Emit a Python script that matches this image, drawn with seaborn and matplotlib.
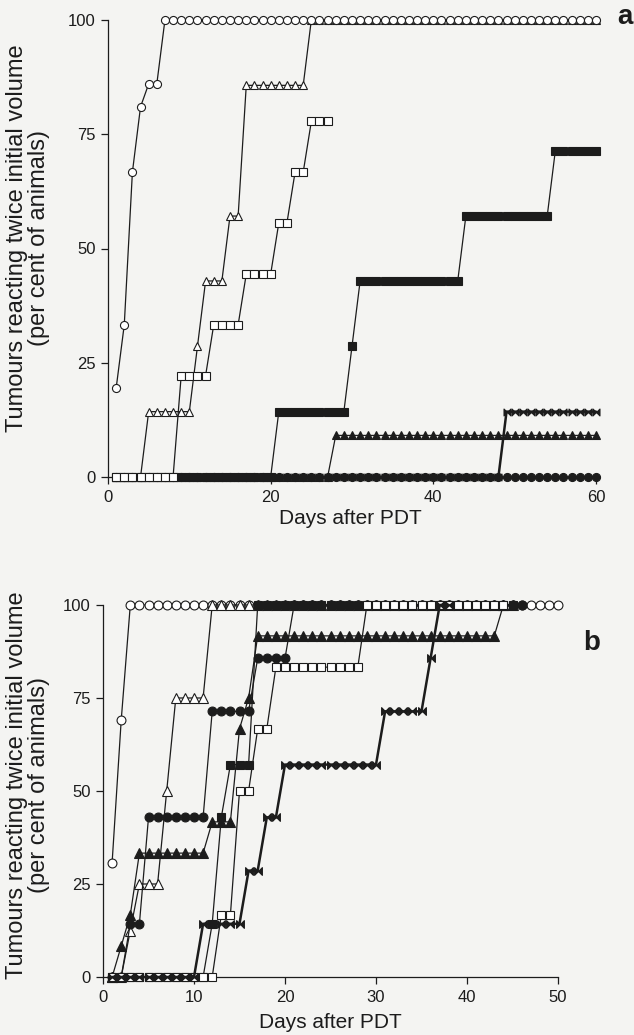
import numpy as np
import pandas as pd
import matplotlib
matplotlib.use("Agg")
import matplotlib.pyplot as plt
from matplotlib.path import Path
import seaborn as sns

sns.set_theme(style="ticks")
plt.rcParams['font.family'] = ['Liberation Sans', 'DejaVu Sans']

# ---------------- Panel a : per-day values (day 1 onwards) ----------------
a_open_circle = [19.4, 33.3, 66.7, 81.0, 86.0, 86.0] + [100] * 54
a_open_triangle = [0] * 4 + [14.3] * 6 + [28.6] + [42.9] * 3 + [57.1] * 2 + [85.7] * 8 + [100] * 36
a_open_square = [0] * 8 + [22.2] * 4 + [33.3] * 4 + [44.4] * 4 + [55.6] * 2 + [66.7] * 2 + [77.8] * 3
a_filled_square = [0] * 20 + [14.3] * 9 + [28.6] + [42.9] * 13 + [57.1] * 11 + [71.4] * 6
a_filled_triangle = [0] * 27 + [9.1] * 33
a_star = [0] * 48 + [14.3] * 12
a_filled_circle = [0] * 60

# ---------------- Panel b : per-day values (day 1 onwards) ----------------
b_open_circle = [30.7, 69.0] + [100] * 48
b_open_triangle = [0, 0, 12.5, 25, 25, 25, 50, 75, 75, 75, 75] + [100] * 34
b_filled_circle = [0, 0, 14.3, 14.3] + [42.9] * 7 + [71.4] * 5 + [85.7] * 4 + [100] * 26
b_filled_triangle = [0, 8.3, 16.7] + [33.3] * 8 + [41.7] * 3 + [66.7, 75.0] + [91.7] * 27 + [100]
b_open_square = [0] * 12 + [16.7] * 2 + [50] * 2 + [66.7] * 2 + [83.3] * 10 + [100] * 16
b_filled_square = [0] * 11 + [14.3] + [42.9] + [57.1] * 3 + [100] * 29
b_star = [0] * 10 + [14.3] * 5 + [28.6] * 2 + [42.9] * 2 + [57.1] * 11 + [71.4] * 5 + [85.7] + [100] * 2

x_ticks_a = [0, 20, 40, 60]
x_ticks_b = [0, 10, 20, 30, 40, 50]
y_ticks = [0, 25, 50, 75, 100]
ylabel = "Tumours reacting twice initial volume\n(per cent of animals)"
xlabel = "Days after PDT"

BG = "#f4f4f2"
INK = "#1c1c1c"

bowtie = Path([(-1, -1), (1, 1), (1, -1), (-1, 1), (-1, -1)],
              [Path.MOVETO, Path.LINETO, Path.LINETO, Path.LINETO, Path.CLOSEPOLY])

fig = plt.figure(figsize=(6.34, 10.35), dpi=100, facecolor=BG)
ax_a = fig.add_axes([108 / 634, 558 / 1035, 488 / 634, 457 / 1035])
ax_b = fig.add_axes([103 / 634, 58 / 1035, 455 / 634, 372 / 1035])


def draw(ax, values, marker, filled, ms, z, lw=0.9):
    days = list(range(1, len(values) + 1))
    sns.lineplot(x=days, y=values, ax=ax, estimator=None, sort=False,
                 color=INK, lw=lw, marker=marker, markersize=ms,
                 markerfacecolor=INK if filled else "white",
                 markeredgecolor=INK, markeredgewidth=0.8,
                 clip_on=False, zorder=z)


# panel a
ms_a = 5.8
draw(ax_a, a_open_triangle, "^", False, ms_a + 0.6, 2)
draw(ax_a, a_open_circle, "o", False, ms_a, 3)
draw(ax_a, a_filled_triangle, "^", True, ms_a + 0.4, 4)
draw(ax_a, a_star, bowtie, True, ms_a - 0.8, 5, lw=1.8)
draw(ax_a, a_filled_circle, "o", True, ms_a, 6)
draw(ax_a, a_filled_square, "s", True, ms_a, 7)
draw(ax_a, a_open_square, "s", False, ms_a, 8)

# panel b
ms_b = 6.4
draw(ax_b, b_open_circle, "o", False, ms_b, 2)
draw(ax_b, b_open_triangle, "^", False, ms_b + 0.6, 3)
draw(ax_b, b_filled_triangle, "^", True, ms_b + 0.4, 4)
draw(ax_b, b_filled_square, "s", True, ms_b, 5)
draw(ax_b, b_filled_circle, "o", True, ms_b, 6)
draw(ax_b, b_open_square, "s", False, ms_b, 7)
draw(ax_b, b_star, bowtie, True, ms_b - 0.8, 8, lw=1.8)

for ax, xt in ((ax_a, x_ticks_a), (ax_b, x_ticks_b)):
    ax.set_facecolor(BG)
    ax.set_xlim(xt[0], xt[-1])
    ax.set_ylim(0, 100)
    ax.set_xticks(xt)
    ax.set_yticks(y_ticks)
    ax.set_xlabel("")
    ax.set_ylabel("")
    sns.despine(ax=ax)
    for s in ("left", "bottom"):
        ax.spines[s].set_color(INK)
        ax.spines[s].set_linewidth(0.9)
    ax.tick_params(axis="both", direction="out", length=5, width=0.9,
                   colors=INK, labelsize=12, pad=4)

# axis titles
fig.text(28 / 634, 1 - 238 / 1035, ylabel, rotation=90, ha="center", va="center",
         fontsize=17, color=INK, linespacing=1.05, multialignment="center")
fig.text(28 / 634, 1 - 785 / 1035, ylabel, rotation=90, ha="center", va="center",
         fontsize=17, color=INK, linespacing=1.05, multialignment="center")
fig.text(350 / 634, 1 - 519 / 1035, xlabel, ha="center", va="center",
         fontsize=15, color=INK)
fig.text(330 / 634, 1 - 1022 / 1035, xlabel, ha="center", va="center",
         fontsize=15, color=INK)

# panel letters
fig.text(625 / 634, 1 - 17 / 1035, "a", ha="center", va="center",
         fontsize=20, fontweight="bold", color=INK)
fig.text(592 / 634, 1 - 643 / 1035, "b", ha="center", va="center",
         fontsize=20, fontweight="bold", color=INK)

fig.savefig("out.png", dpi=100, facecolor=BG)
